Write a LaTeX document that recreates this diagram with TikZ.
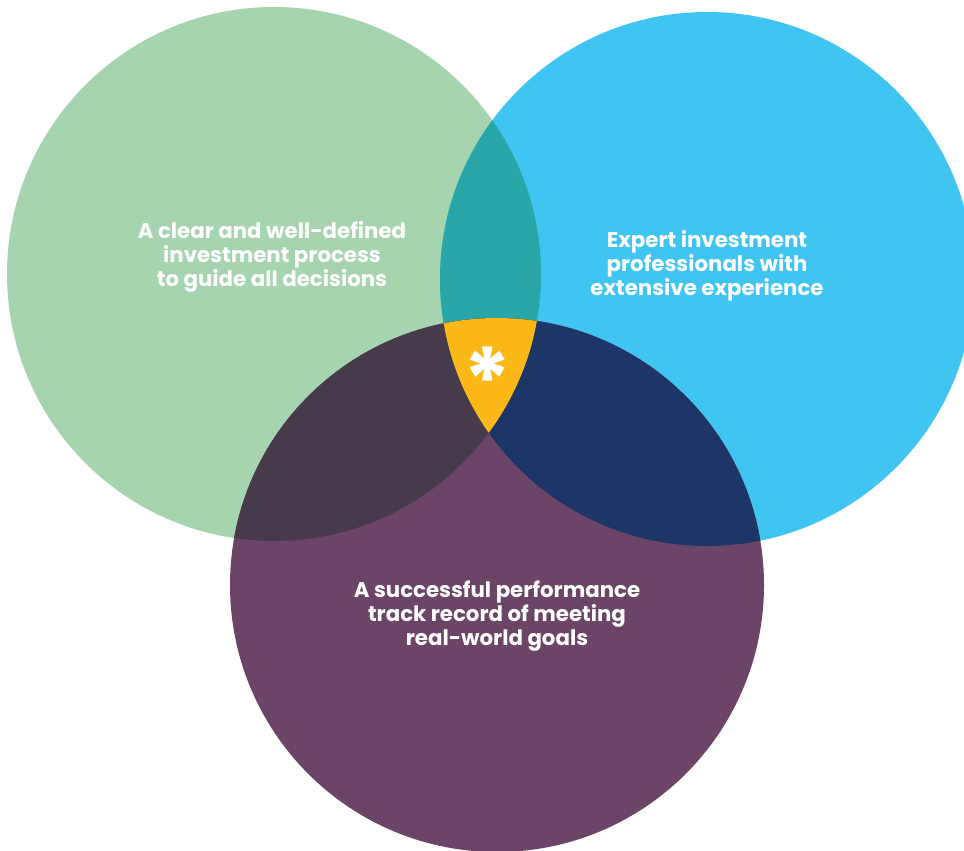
\documentclass[tikz,border=0pt]{standalone}
\usepackage{fontspec}
\setmainfont{Poppins}
\definecolor{cgreen}{HTML}{A6D4AE}
\definecolor{cblue}{HTML}{40C5F2}
\definecolor{cpurple}{HTML}{6C4468}
\definecolor{cteal}{HTML}{29A6A8}
\definecolor{cgp}{HTML}{473A4B}
\definecolor{cbp}{HTML}{1D3667}
\definecolor{cyel}{HTML}{FBB817}
\begin{document}
\begin{tikzpicture}[x=1pt,y=-1pt,
  lbl/.style={text=white,font=\fontsize{21.3}{24}\selectfont\bfseries,align=center,inner sep=0pt}]
\useasboundingbox (0,0) rectangle (964,851);
\clip (0,0) rectangle (964,851);
\coordinate (G) at (274,274);
\coordinate (B) at (707,279);
\coordinate (P) at (497,585);
\def\R{267}
\fill[cgreen] (G) circle (\R);
\fill[cblue] (B) circle (\R);
\fill[cpurple] (P) circle (\R);
\begin{scope}
  \clip (G) circle (\R);
  \fill[cteal] (B) circle (\R);
  \fill[cgp] (P) circle (\R);
\end{scope}
\begin{scope}
  \clip (B) circle (\R);
  \fill[cbp] (P) circle (\R);
\end{scope}
\begin{scope}
  \clip (G) circle (\R);
  \clip (B) circle (\R);
  \fill[cyel] (P) circle (\R);
\end{scope}
\node[lbl] (tg) at (272,257) {A clear and well-defined\\investment process\\to guide all decisions};
\node[lbl] (tb) at (707,266) {Expert investment\\professionals with\\extensive experience};
\node[lbl] (tp) at (497,616) {A successful performance\\track record of meeting\\real-world goals};
\node[text=white,font=\fontsize{90}{90}\selectfont\bfseries,inner sep=0pt] (ast) at (488,380) {*};
\end{tikzpicture}
\end{document}
